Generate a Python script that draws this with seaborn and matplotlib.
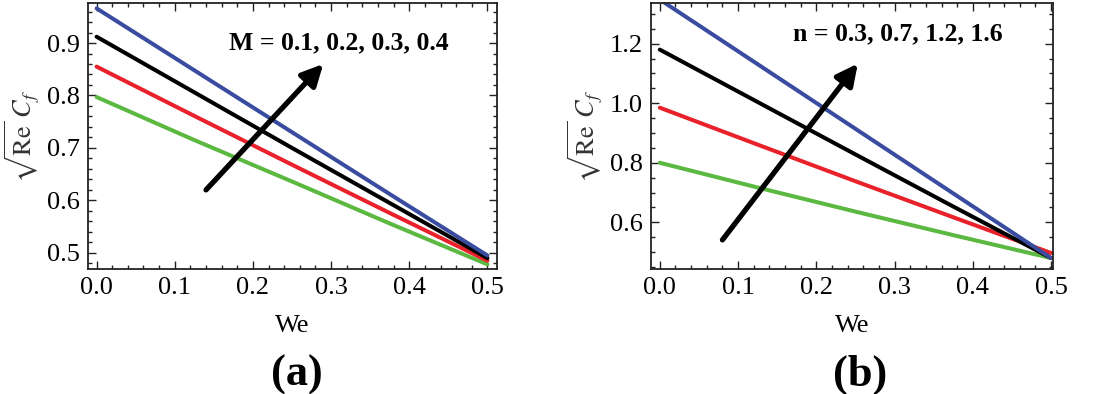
import numpy as np
import pandas as pd
import matplotlib
matplotlib.use('Agg')
import matplotlib.pyplot as plt
from matplotlib.ticker import MultipleLocator, FormatStrFormatter
import seaborn as sns

# Data (skin friction vs We)
we = [0.0, 0.125, 0.25, 0.375, 0.5]

# panel (a): M = 0.1, 0.2, 0.3, 0.4
m_labels = ['0.1', '0.2', '0.3', '0.4']
cf_m01 = [0.797, 0.715, 0.636, 0.556, 0.478]
cf_m02 = [0.855, 0.761, 0.668, 0.576, 0.485]
cf_m03 = [0.912, 0.806, 0.700, 0.595, 0.490]
cf_m04 = [0.966, 0.848, 0.730, 0.612, 0.495]

# panel (b): n = 0.3, 0.7, 1.2, 1.6
n_labels = ['0.3', '0.7', '1.2', '1.6']
cf_n03 = [0.800, 0.717, 0.636, 0.557, 0.480]
cf_n07 = [0.985, 0.861, 0.738, 0.617, 0.497]
cf_n12 = [1.180, 1.004, 0.828, 0.653, 0.480]
cf_n16 = [1.348, 1.131, 0.914, 0.697, 0.480]

line_colors = ['#5bb840', '#e8212a', '#000000', '#3a4ca0']

sns.set_style('ticks')
plt.rcParams['font.family'] = ['Liberation Serif', 'DejaVu Serif']
plt.rcParams['mathtext.fontset'] = 'stix'
plt.rcParams['text.color'] = 'black'
plt.rcParams['axes.labelcolor'] = 'black'
plt.rcParams['xtick.color'] = 'black'
plt.rcParams['ytick.color'] = 'black'


def long_df(series, labels, key):
    rows = []
    for lab, vals in zip(labels, series):
        for x, y in zip(we, vals):
            rows.append({'We': x, 'Cf': y, key: lab})
    return pd.DataFrame(rows)


df_a = long_df([cf_m01, cf_m02, cf_m03, cf_m04], m_labels, 'M')
df_b = long_df([cf_n03, cf_n07, cf_n12, cf_n16], n_labels, 'n')

fig = plt.figure(figsize=(11, 3.94), dpi=100)
ax_a = fig.add_axes([0.080, 0.317, 0.372, 0.675])
ax_b = fig.add_axes([0.592, 0.317, 0.365, 0.675])

sns.lineplot(data=df_a, x='We', y='Cf', hue='M', palette=line_colors,
             linewidth=2.9, legend=False, ax=ax_a)
sns.lineplot(data=df_b, x='We', y='Cf', hue='n', palette=line_colors,
             linewidth=2.9, legend=False, ax=ax_b)

ax_a.set_xlim(-0.011, 0.5125)
ax_a.set_ylim(0.469, 0.976)
ax_b.set_xlim(-0.011, 0.502)
ax_b.set_ylim(0.443, 1.336)

ax_a.yaxis.set_major_locator(MultipleLocator(0.1))
ax_a.yaxis.set_minor_locator(MultipleLocator(0.02))
ax_b.yaxis.set_major_locator(MultipleLocator(0.2))
ax_b.yaxis.set_minor_locator(MultipleLocator(0.05))

for ax in (ax_a, ax_b):
    ax.xaxis.set_major_locator(MultipleLocator(0.1))
    ax.xaxis.set_minor_locator(MultipleLocator(0.02))
    ax.xaxis.set_major_formatter(FormatStrFormatter('%.1f'))
    ax.yaxis.set_major_formatter(FormatStrFormatter('%.1f'))
    ax.tick_params(which='both', direction='in', top=True, right=True,
                   width=1.0, color='#222222', labelsize=19, pad=6)
    ax.tick_params(which='major', length=5.5)
    ax.tick_params(which='minor', length=3)
    for s in ax.spines.values():
        s.set_linewidth(1.3)
        s.set_color('#222222')
    ax.set_xlabel('We', fontsize=19, labelpad=11)
    ax.set_ylabel(r'$\sqrt{\mathrm{Re}}\;C_f$', fontsize=19, labelpad=4,
                  color='#333333')

arrow = dict(arrowstyle='-|>', lw=3.8, color='black', mutation_scale=32,
             shrinkA=0, shrinkB=0)
ax_a.annotate('', xy=(0.29, 0.86), xytext=(0.14, 0.62), arrowprops=arrow)
ax_a.text(0.170, 0.90, 'M = 0.1, 0.2, 0.3, 0.4', fontsize=18.5,
          fontweight='bold', va='center', ha='left')
ax_b.annotate('', xy=(0.253, 1.133), xytext=(0.08, 0.541), arrowprops=arrow)
ax_b.text(0.170, 1.234, 'n = 0.3, 0.7, 1.2, 1.6', fontsize=18.5,
          fontweight='bold', va='center', ha='left')

fig.text(0.270, 0.048, '(a)', fontsize=32, fontweight='bold',
         ha='center', va='center')
fig.text(0.782, 0.048, '(b)', fontsize=32, fontweight='bold',
         ha='center', va='center')

fig.savefig('out.png', dpi=100)
